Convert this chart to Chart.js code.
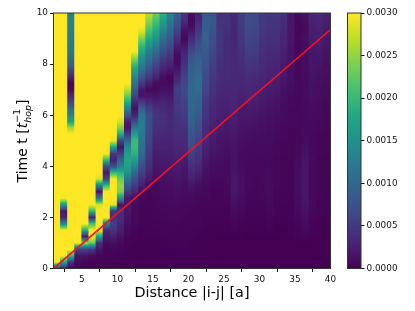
<!DOCTYPE html>
<html>
<head>
<meta charset="utf-8">
<script src="https://cdn.jsdelivr.net/npm/chart.js@4/dist/chart.umd.min.js"></script>
<style>
  html, body { margin: 0; padding: 0; background: #fff; }
  #wrap { position: relative; width: 415px; height: 311px; overflow: hidden; }
  canvas { position: absolute; top: 0; filter: blur(0.35px); }
  #heat { left: 0; }
  #cbar { left: 340px; }
</style>
</head>
<body>
<div id="wrap">
  <canvas id="heat" width="345" height="311"></canvas>
  <canvas id="cbar" width="75" height="311"></canvas>
</div>
<script>
'use strict';

var Y = 300; // saturated, colour scale stops at 0.0030

// sample times (t_hop^-1) every 0.25
var timeStep = 0.25;
var distanceStart = 1;
var xTickValues = [5, 10, 15, 20, 25, 30, 35, 40];
var yTickValues = [0, 2, 4, 6, 8, 10];
var cbarTickValues = [0, 0.0005, 0.001, 0.0015, 0.002, 0.0025, 0.003];

// one row per distance column, one value per time sample, in units of 1e-5
var correlation = [
  [30,Y,Y,Y,Y, Y,Y,Y,Y,Y, Y,Y,Y,Y,Y, Y,Y,Y,Y,Y, Y,Y,Y,Y,Y, Y,Y,Y,Y,Y, Y,Y,Y,Y,Y, Y,Y,Y,Y,Y, Y],
  [10,180,Y,Y,Y, Y,Y,140,30,20, 160,Y,Y,Y,Y, Y,Y,Y,Y,Y, Y,Y,Y,Y,Y, Y,Y,Y,Y,Y, Y,Y,Y,Y,Y, Y,Y,Y,Y,Y, Y],
  [5,40,200,Y,Y, Y,Y,Y,Y,Y, Y,Y,Y,Y,Y, Y,Y,Y,Y,Y, Y,Y,260,170,130, 100,60,35,10,5, 30,60,90,105,115, 120,125,125,128,130, 130],
  [2,8,15,60,Y, Y,Y,Y,Y,Y, Y,Y,Y,Y,Y, Y,Y,Y,Y,Y, Y,Y,Y,Y,Y, Y,Y,Y,Y,Y, Y,Y,Y,Y,Y, Y,Y,Y,Y,Y, Y],
  [1,4,15,60,260, 20,180,Y,Y,Y, Y,Y,Y,Y,Y, Y,Y,Y,Y,Y, Y,Y,Y,Y,Y, Y,Y,Y,Y,Y, Y,Y,Y,Y,Y, Y,Y,Y,Y,Y, Y],
  [1,2,10,50,230, Y,Y,210,20,200, Y,Y,Y,Y,Y, Y,Y,Y,Y,Y, Y,Y,Y,Y,Y, Y,Y,Y,Y,Y, Y,Y,Y,Y,Y, Y,Y,Y,Y,Y, Y],
  [0,1,5,15,40, 170,Y,Y,Y,Y, 280,120,15,130,280, Y,Y,Y,Y,Y, Y,Y,Y,Y,Y, Y,Y,Y,Y,Y, Y,Y,Y,Y,Y, Y,Y,Y,Y,Y, Y],
  [0,1,2,4,8, 20,30,130,Y,Y, Y,Y,Y,200,60, 20,70,200,Y,Y, Y,Y,Y,Y,Y, Y,Y,Y,Y,Y, Y,Y,Y,Y,Y, Y,Y,Y,Y,Y, Y],
  [0,1,2,4,10, 25,45,55,40,50, 290,Y,Y,Y,Y, 200,70,25,50,170, 290,Y,Y,Y,Y, Y,Y,Y,Y,Y, Y,Y,Y,Y,Y, Y,Y,Y,Y,Y, Y],
  [0,0,1,3,6, 15,25,30,35,40, 15,150,240,250,230, 190,130,90,50,15, 60,180,240,280,Y, Y,Y,Y,Y,Y, Y,Y,Y,Y,Y, Y,Y,Y,Y,Y, Y],
  [0,0,0,1,2, 4,8,12,14,18, 22,18,50,80,115, 150,170,175,165,140, 100,50,15,25,75, 125,180,230,270,Y, Y,Y,Y,Y,Y, Y,Y,Y,Y,Y, Y],
  [0,0,0,0,1, 2,3,5,5,6, 8,10,30,50,75, 100,135,165,190,205, 205,170,120,70,30, 12,30,60,85,110, 140,170,205,250,Y, Y,Y,Y,Y,Y, Y],
  [0,0,0,0,0, 1,1,2,3,3, 4,6,10,25,40, 55,70,85,100,110, 115,120,125,125,115, 90,50,15,20,50, 75,105,130,150,175, 205,240,280,Y,Y, Y],
  [0,0,0,0,1, 1,2,2,3,3, 3,4,5,10,20, 30,40,45,50,55, 60,65,70,70,70, 55,35,20,8,25, 50,70,90,110,130, 155,180,205,230,250, 270],
  [0,0,0,0,1, 1,2,3,4,4, 5,5,6,8,10, 15,18,20,25,28, 30,35,40,42,45, 38,30,18,8,10, 30,48,65,85,105, 130,155,175,195,215, 235],
  [0,0,0,1,1, 2,3,4,5,6, 7,8,10,12,14, 17,20,22,25,28, 30,33,36,38,40, 35,30,22,15,8, 12,25,40,55,70, 88,105,128,150,170, 190],
  [0,0,0,1,2, 3,4,5,6,7, 8,9,10,12,15, 18,20,23,25,28, 30,32,33,35,35, 30,25,20,15,8, 5,18,30,42,55, 70,85,98,110,122, 135],
  [0,0,1,1,2, 3,4,5,6,7, 8,10,12,14,17, 20,22,25,28,32, 35,38,40,43,45, 48,50,52,55,42, 30,20,10,6,15, 28,40,55,70,80, 90],
  [0,0,1,1,2, 3,3,4,5,6, 7,8,10,12,15, 17,20,24,28,32, 35,38,42,46,50, 54,58,62,65,62, 58,50,42,35,28, 18,5,12,25,38, 50],
  [0,0,1,1,1, 2,3,4,4,5, 6,8,12,18,25, 32,40,48,56,65, 72,78,85,90,95, 98,100,100,100,98, 95,92,88,80,65, 50,35,22,10,6, 12],
  [0,0,0,1,1, 1,2,3,4,4, 5,6,8,12,18, 25,32,40,46,52, 58,65,72,78,84, 90,95,100,105,105, 105,100,95,88,80, 72,62,52,42,32, 28],
  [0,0,0,0,1, 1,1,2,2,3, 4,5,6,8,10, 13,16,20,23,27, 30,33,36,40,43, 46,50,55,60,64, 68,72,76,80,84, 88,90,90,88,85, 80],
  [0,0,0,0,0, 1,1,1,2,2, 3,3,4,5,7, 9,12,14,17,20, 22,25,27,30,32, 35,37,40,42,45, 48,52,56,60,64, 68,72,76,80,80, 78],
  [0,0,0,0,0, 0,1,1,2,2, 3,3,4,5,7, 9,10,12,14,16, 18,20,22,24,26, 28,30,32,33,35, 36,38,40,42,44, 46,48,48,46,44, 42],
  [0,0,0,0,0, 0,1,1,2,3, 4,5,6,7,8, 9,10,11,12,14, 16,18,20,22,24, 26,28,30,32,34, 36,38,38,38,38, 38,38,40,42,42, 42],
  [0,0,0,0,1, 1,2,4,6,9, 12,15,18,18,18, 17,16,15,15,16, 18,20,22,24,26, 28,30,32,34,34, 34,34,34,34,34, 34,34,34,34,34, 34],
  [0,0,0,0,0, 1,1,2,4,6, 8,10,12,12,12, 11,10,10,10,11, 12,14,16,18,20, 22,25,28,30,32, 34,36,38,40,42, 44,46,48,50,52, 52],
  [0,0,0,0,0, 0,1,1,2,3, 4,5,5,6,6, 7,7,8,9,10, 11,13,15,17,20, 23,26,29,32,35, 38,42,46,50,54, 58,62,66,68,70, 70],
  [0,0,0,0,0, 0,1,1,2,2, 3,4,4,5,5, 6,6,7,8,9, 10,12,14,16,18, 21,24,27,30,33, 36,40,44,48,52, 56,60,62,64,66, 66],
  [0,0,0,0,0, 0,1,1,2,3, 4,5,6,6,6, 6,6,7,8,9, 10,11,12,14,16, 18,20,23,26,29, 32,34,36,38,40, 42,44,46,48,50, 50],
  [0,0,0,0,0, 1,2,3,4,6, 7,8,9,9,9, 9,8,8,8,8, 9,10,11,12,14, 16,18,20,22,25, 28,30,32,34,36, 38,40,42,44,46, 46],
  [0,0,0,0,0, 0,1,1,2,3, 3,4,4,5,5, 5,5,5,6,6, 7,8,9,10,12, 14,16,18,20,23, 26,28,30,33,36, 38,40,42,44,46, 48],
  [0,0,0,0,0, 0,0,1,1,2, 2,3,3,3,3, 3,3,3,4,4, 5,6,7,8,9, 10,11,12,14,16, 18,20,22,24,26, 28,30,32,36,38, 40],
  [0,0,0,0,0, 0,1,1,2,2, 3,3,4,4,4, 4,4,4,4,4, 4,4,5,5,6, 7,8,9,10,11, 12,13,14,15,16, 17,18,18,18,18, 20],
  [0,0,0,0,1, 2,3,4,6,7, 8,10,11,11,10, 10,9,8,7,6, 5,5,5,5,5, 6,6,6,6,6, 7,7,7,7,7, 7,6,5,5,6, 8],
  [0,0,0,0,1, 3,6,9,12,14, 16,18,20,20,20, 20,19,18,15,12, 10,9,8,8,8, 8,8,9,9,9, 10,10,10,10,11, 11,11,10,10,11, 14],
  [0,0,0,0,0, 1,2,3,5,6, 7,8,8,8,8, 8,8,8,7,7, 7,7,8,8,9, 10,11,12,13,14, 15,16,17,18,19, 20,22,24,26,28, 30],
  [0,0,0,0,0, 0,1,1,2,3, 3,4,4,4,4, 4,4,4,5,5, 5,5,6,6,7, 8,9,10,11,12, 13,14,16,18,20, 22,24,26,28,30, 32],
  [0,0,0,0,0, 0,1,1,1,2, 2,3,3,3,3, 3,3,3,4,4, 4,4,5,5,5, 6,7,8,9,10, 11,12,13,14,16, 18,20,22,24,26, 28]
];

// light-cone front
var frontDistance = [1, 40];
var frontTime = [0, 9.35];

var viridisStops = ['#440154', '#482475', '#414487', '#355f8d', '#2a788e', '#21918c',
  '#22a884', '#44bf70', '#7ad151', '#bddf26', '#fde725'];

function hexToRgb(h) {
  return [parseInt(h.slice(1, 3), 16), parseInt(h.slice(3, 5), 16), parseInt(h.slice(5, 7), 16)];
}

function viridis(f) {
  f = Math.min(1, Math.max(0, f));
  var p = f * (viridisStops.length - 1);
  var i = Math.min(viridisStops.length - 2, Math.floor(p));
  var a = hexToRgb(viridisStops[i]), b = hexToRgb(viridisStops[i + 1]);
  var u = p - i;
  return 'rgb(' + Math.round(a[0] + (b[0] - a[0]) * u) + ',' +
    Math.round(a[1] + (b[1] - a[1]) * u) + ',' +
    Math.round(a[2] + (b[2] - a[2]) * u) + ')';
}

// vertical gradient of one column, sub-stops keep the blend on the colormap
function columnGradient(chart, values) {
  var ys = chart.scales.y;
  var tMax = timeStep * (values.length - 1);
  var y0 = ys ? ys.getPixelForValue(0) : NaN;
  var y1 = ys ? ys.getPixelForValue(tMax) : NaN;
  if (!isFinite(y0) || !isFinite(y1)) return '#440154'; // layout not done yet
  var g = chart.ctx.createLinearGradient(0, y0, 0, y1);
  var sub = 6;
  for (var i = 0; i < values.length - 1; i++) {
    for (var s = 0; s < sub; s++) {
      var u = s / sub;
      var v = values[i] + (values[i + 1] - values[i]) * u;
      g.addColorStop((i + u) / (values.length - 1), viridis(v / Y));
    }
  }
  g.addColorStop(1, viridis(values[values.length - 1] / Y));
  return g;
}

var tickFont = { family: '"DejaVu Sans"', size: 8.9 };
var inkColor = '#111';

var framePlugin = {
  id: 'frame',
  afterDraw: function (chart) {
    var a = chart.chartArea, ctx = chart.ctx;
    ctx.save();
    ctx.strokeStyle = '#333';
    ctx.lineWidth = 1;
    ctx.strokeRect(a.left, a.top, a.right - a.left, a.bottom - a.top);
    ctx.restore();
  }
};

// plain base colour so that no white shows between the columns
var heatBasePlugin = {
  id: 'heatBase',
  beforeDatasetsDraw: function (chart) {
    var a = chart.chartArea, ctx = chart.ctx;
    ctx.save();
    ctx.fillStyle = '#440154';
    ctx.fillRect(a.left, a.top, a.right - a.left, a.bottom - a.top);
    ctx.restore();
  }
};

// Chart.js has no mathtext, so the y title is set by hand
var yTitlePlugin = {
  id: 'yTitle',
  afterDraw: function (chart) {
    var ctx = chart.ctx;
    var big = '14px "DejaVu Sans"';
    var bigIt = 'italic 14px "DejaVu Sans"';
    var small = '9.5px "DejaVu Sans"';
    var smallIt = 'italic 9.5px "DejaVu Sans"';
    ctx.save();
    ctx.fillStyle = '#000';
    ctx.textBaseline = 'alphabetic';
    ctx.font = big;
    var head = 'Time t [';
    var w1 = ctx.measureText(head).width;
    var w4 = ctx.measureText(']').width;
    ctx.font = bigIt;
    var w2 = ctx.measureText('t').width;
    ctx.font = smallIt;
    var w3 = ctx.measureText('hop').width;
    var total = w1 + w2 + w3 + w4;
    ctx.translate(26.5, 141);
    ctx.rotate(-Math.PI / 2);
    var x = -total / 2;
    ctx.font = big;
    ctx.fillText(head, x, 0);
    x += w1;
    ctx.font = bigIt;
    ctx.fillText('t', x, 0);
    x += w2;
    ctx.font = small;
    ctx.fillText('\u22121', x, -6.5);
    ctx.font = smallIt;
    ctx.fillText('hop', x, 4);
    x += w3;
    ctx.font = big;
    ctx.fillText(']', x, 0);
    ctx.restore();
  }
};

new Chart(document.getElementById('heat').getContext('2d'), {
  type: 'bar',
  data: {
    datasets: [
      {
        type: 'line',
        order: 0,
        data: frontDistance.map(function (d, i) { return { x: d, y: frontTime[i] }; }),
        borderColor: '#f41020',
        borderWidth: 1.6,
        pointRadius: 0,
        tension: 0
      },
      {
        order: 1,
        data: correlation.map(function (col, k) {
          return { x: distanceStart + k + 0.5, y: [0, timeStep * (col.length - 1)] };
        }),
        backgroundColor: function (ctx) {
          if (ctx.dataIndex === undefined) return '#440154';
          return columnGradient(ctx.chart, correlation[ctx.dataIndex]);
        },
        borderWidth: 0,
        barPercentage: 1.15,
        categoryPercentage: 1
      }
    ]
  },
  options: {
    responsive: false,
    animation: false,
    layout: { padding: { left: 0, right: 14.5, top: 13, bottom: 0 } },
    plugins: { legend: { display: false }, tooltip: { enabled: false } },
    scales: {
      x: {
        type: 'linear',
        offset: false,
        min: 1,
        max: 40,
        afterBuildTicks: function (s) { s.ticks = xTickValues.map(function (v) { return { value: v }; }); },
        afterFit: function (s) { s.height = 42.5; },
        grid: { display: true, drawOnChartArea: false, drawTicks: true, tickLength: 3.5, color: inkColor },
        border: { display: false },
        ticks: { font: tickFont, color: inkColor, padding: 2, maxRotation: 0 },
        title: {
          display: true,
          text: 'Distance |i-j| [a]',
          font: { family: '"DejaVu Sans"', size: 14.4 },
          color: '#000',
          padding: { top: 2, bottom: 9 }
        }
      },
      y: {
        type: 'linear',
        min: 0,
        max: 10,
        afterBuildTicks: function (s) { s.ticks = yTickValues.map(function (v) { return { value: v }; }); },
        afterFit: function (s) { s.width = 53.5; },
        grid: { display: true, drawOnChartArea: false, drawTicks: true, tickLength: 3.5, color: inkColor },
        border: { display: false },
        ticks: { font: tickFont, color: inkColor, padding: 2 }
      }
    }
  },
  plugins: [heatBasePlugin, framePlugin, yTitlePlugin]
});

new Chart(document.getElementById('cbar').getContext('2d'), {
  type: 'bar',
  data: {
    datasets: [{
      data: [{ x: 0, y: [0, 0.003] }],
      backgroundColor: function (ctx) {
        var ys = ctx.chart.scales.y;
        var y0 = ys ? ys.getPixelForValue(0) : NaN;
        var y1 = ys ? ys.getPixelForValue(0.003) : NaN;
        if (!isFinite(y0) || !isFinite(y1)) return '#440154';
        var g = ctx.chart.ctx.createLinearGradient(0, y0, 0, y1);
        for (var i = 0; i <= 40; i++) g.addColorStop(i / 40, viridis(i / 40));
        return g;
      },
      borderWidth: 0,
      barPercentage: 1,
      categoryPercentage: 1,
      barThickness: 14
    }]
  },
  options: {
    responsive: false,
    animation: false,
    layout: { padding: { left: 7.5, right: 0, top: 13, bottom: 42.5 } },
    plugins: { legend: { display: false }, tooltip: { enabled: false } },
    scales: {
      x: { type: 'linear', min: -1, max: 1, display: false },
      y: {
        type: 'linear',
        position: 'right',
        min: 0,
        max: 0.003,
        afterBuildTicks: function (s) { s.ticks = cbarTickValues.map(function (v) { return { value: v }; }); },
        afterFit: function (s) { s.width = 54; },
        grid: { display: true, drawOnChartArea: false, drawTicks: true, tickLength: 3.5, color: inkColor },
        border: { display: false },
        ticks: {
          font: tickFont,
          color: inkColor,
          padding: 2,
          callback: function (v) { return v.toFixed(4); }
        }
      }
    }
  },
  plugins: [framePlugin]
});
</script>
</body>
</html>
